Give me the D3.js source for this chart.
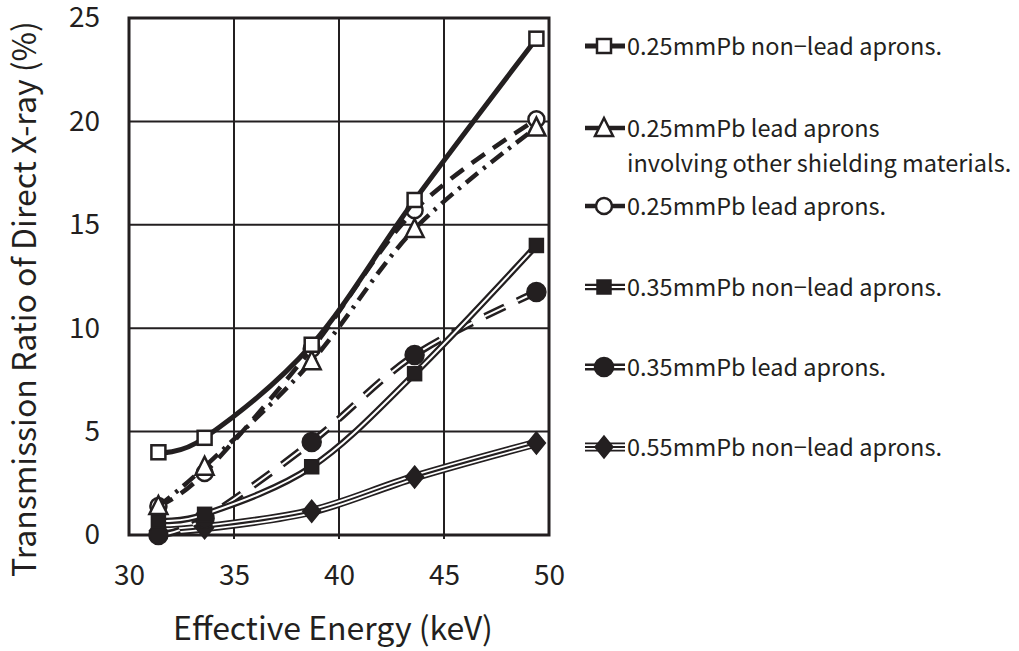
<!DOCTYPE html>
<html>
<head>
<meta charset="utf-8">
<script src="https://cdn.jsdelivr.net/npm/d3@7"></script>
<style>
  body { margin: 0; background: #fff; }
  text { font-family: "Noto Sans CJK JP", "Noto Sans", sans-serif; fill: #231f20; }
</style>
</head>
<body>
<svg width="1019" height="651"></svg>
<script>
// effective energy (keV) of the five beams
var energies = [31.4, 33.6, 38.7, 43.6, 49.4];

// transmission ratio (%) per apron type
var nonLead025 = [4.0, 4.7, 9.2, 16.2, 24.0];
var leadOther025 = [1.4, 3.3, 8.4, 14.8, 19.7];
var lead025 = [1.4, 3.0, 9.0, 15.7, 20.1];
var nonLead035 = [0.7, 1.0, 3.3, 7.8, 14.0];
var lead035 = [0.0, 0.8, 4.5, 8.7, 11.75];
var nonLead055 = [0.2, 0.35, 1.15, 2.8, 4.45];

var seriesNames = [
    ["0.25mmPb non\u2212lead aprons."],
    ["0.25mmPb lead aprons", "involving other shielding materials."],
    ["0.25mmPb lead aprons."],
    ["0.35mmPb non\u2212lead aprons."],
    ["0.35mmPb lead aprons."],
    ["0.55mmPb non\u2212lead aprons."]
];

var xTicks = [30, 35, 40, 45, 50];
var yTicks = [0, 5, 10, 15, 20, 25];

var svg = d3.select("svg"),
    ink = "#231f20";

var pLeft = 129, pRight = 549, pTop = 18, pBottom = 535;

var x = d3.scaleLinear().domain([30, 50]).range([pLeft, pRight]);
var y = d3.scaleLinear().domain([0, 25]).range([pBottom, pTop]);

// grid
var grid = svg.append("g");
grid.selectAll("line.v")
    .data(xTicks.slice(1, -1))
    .enter().append("line")
    .attr("x1", d => x(d)).attr("x2", d => x(d))
    .attr("y1", pTop).attr("y2", pBottom + 4)
    .attr("stroke", ink).attr("stroke-width", 2);
grid.selectAll("line.h")
    .data(yTicks.slice(1, -1))
    .enter().append("line")
    .attr("x1", pLeft).attr("x2", pRight)
    .attr("y1", d => y(d)).attr("y2", d => y(d))
    .attr("stroke", ink).attr("stroke-width", 2);
grid.append("rect")
    .attr("x", pLeft).attr("y", pTop)
    .attr("width", pRight - pLeft).attr("height", pBottom - pTop)
    .attr("fill", "none").attr("stroke", ink).attr("stroke-width", 3);

// axes labels
svg.append("g")
    .attr("transform", "translate(0," + pBottom + ")")
    .call(d3.axisBottom(x).tickValues(xTicks).tickSize(0).tickPadding(30))
    .call(g => g.select(".domain").remove())
    .selectAll("text")
    .attr("font-size", 28).attr("fill", ink)
    .style("font-family", '"Noto Sans CJK JP", sans-serif');

svg.append("g")
    .attr("transform", "translate(" + pLeft + ",0)")
    .call(d3.axisLeft(y).tickValues(yTicks).tickSize(0).tickPadding(29))
    .call(g => g.select(".domain").remove())
    .selectAll("text")
    .attr("font-size", 28).attr("fill", ink)
    .style("font-family", '"Noto Sans CJK JP", sans-serif');

svg.append("text")
    .attr("x", 333).attr("y", 640)
    .attr("text-anchor", "middle")
    .attr("font-size", 32)
    .text("Effective Energy (keV)");

svg.append("text")
    .attr("transform", "translate(36,299) rotate(-90)")
    .attr("text-anchor", "middle")
    .attr("font-size", 32)
    .text("Transmission Ratio of Direct X-ray (%)");

// line styles
var styles = [
    { values: nonLead025, marker: "square", fill: "#fff", layers: [{ w: 5, c: ink }] },
    { values: leadOther025, marker: "triangle", fill: "#fff", layers: [{ w: 4.5, c: ink, dash: "15,7,3,7" }] },
    { values: lead025, marker: "circle", fill: "#fff", layers: [{ w: 4.5, c: ink, dash: "16,10" }] },
    { values: nonLead035, marker: "square", fill: ink, layers: [{ w: 6.5, c: ink }, { w: 2, c: "#fff" }] },
    { values: lead035, marker: "circle", fill: ink, layers: [{ w: 7, c: ink, dash: "22,14" }, { w: 2, c: "#fff", dash: "22,14" }] },
    { values: nonLead055, marker: "diamond", fill: ink, layers: [{ w: 9, c: ink }, { w: 5.5, c: "#fff" }, { w: 2, c: ink }] }
];

var line = d3.line()
    .x(d => x(d[0]))
    .y(d => y(d[1]))
    .curve(d3.curveCatmullRom.alpha(0));

function drawMarker(g, type, fill, cx, cy) {
    var s, m;
    if (type === "square") {
        s = 14;
        m = g.append("rect").attr("x", cx - s / 2).attr("y", cy - s / 2)
            .attr("width", s).attr("height", s);
    } else if (type === "triangle") {
        m = g.append("path").attr("d", "M" + cx + "," + (cy - 10) + "L" + (cx + 9) + "," + (cy + 8) + "L" + (cx - 9) + "," + (cy + 8) + "Z");
    } else if (type === "circle") {
        m = g.append("circle").attr("cx", cx).attr("cy", cy).attr("r", fill === "#fff" ? 8 : 9.5);
    } else {
        m = g.append("path").attr("d", "M" + cx + "," + (cy - 11) + "L" + (cx + 9) + "," + cy + "L" + cx + "," + (cy + 11) + "L" + (cx - 9) + "," + cy + "Z");
    }
    m.attr("fill", fill).attr("stroke", ink).attr("stroke-width", fill === "#fff" ? 2.5 : 1.5);
}

var plot = svg.append("g");
styles.slice().reverse().forEach(function (st) {
    var pts = energies.map((e, i) => [e, st.values[i]]);
    var g = plot.append("g");
    st.layers.forEach(function (l) {
        g.append("path")
            .attr("d", line(pts))
            .attr("fill", "none")
            .attr("stroke", l.c)
            .attr("stroke-width", l.w)
            .attr("stroke-dasharray", l.dash || null)
            .attr("stroke-linejoin", "round");
    });
    pts.forEach(function (p) {
        drawMarker(g, st.marker, st.fill, x(p[0]), y(p[1]));
    });
});

// legend
var legendY = [46, 128, 206, 287, 367, 447];
var legend = svg.append("g");
styles.forEach(function (st, i) {
    var g = legend.append("g").attr("transform", "translate(0," + legendY[i] + ")");
    st.layers.forEach(function (l) {
        g.append("line")
            .attr("x1", 585).attr("x2", 625).attr("y1", 0).attr("y2", 0)
            .attr("stroke", l.c).attr("stroke-width", l.w);
    });
    drawMarker(g, st.marker, st.fill, 604, 0);
    seriesNames[i].forEach(function (t, k) {
        g.append("text")
            .attr("x", 627).attr("y", 9 + k * 35)
            .attr("font-size", 23.5)
            .text(t);
    });
});
</script>
</body>
</html>
